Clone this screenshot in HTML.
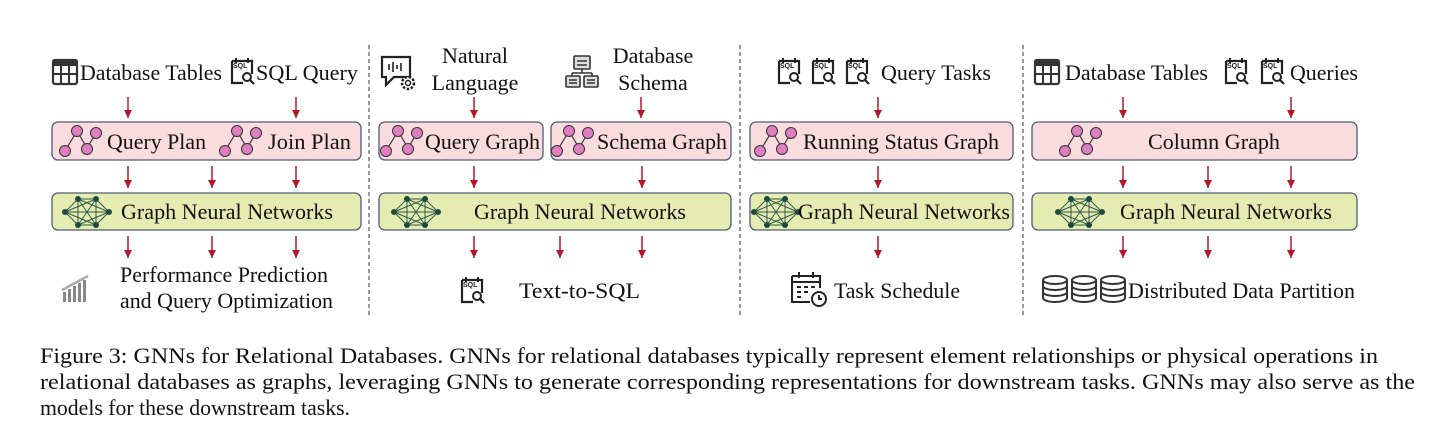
<!DOCTYPE html>
<html><head><meta charset="utf-8">
<style>
html,body{margin:0;padding:0;background:#fff;}
body{width:1456px;height:445px;position:relative;overflow:hidden;font-family:"Liberation Serif",serif;}
svg{position:absolute;left:0;top:0;}
</style></head><body>
<svg width="1456" height="445" viewBox="0 0 1456 445" xmlns="http://www.w3.org/2000/svg" font-family="Liberation Serif, serif" font-size="22" fill="#111">
<defs>
<marker id="ah" markerWidth="9" markerHeight="9" refX="8" refY="4" orient="auto" markerUnits="userSpaceOnUse">
<path d="M0,0 L8,4 L0,8 Z" fill="#b0182a"/></marker>
<g id="graph">
<path d="M5,29 L17,9 L27,26 L36,11" stroke="#333" stroke-width="1.2" fill="none"/>
<circle cx="5" cy="29" r="5.5" fill="#e07fbf" stroke="#333" stroke-width="1"/>
<circle cx="17" cy="9" r="5.5" fill="#e07fbf" stroke="#333" stroke-width="1"/>
<circle cx="27" cy="27" r="5.5" fill="#e07fbf" stroke="#333" stroke-width="1"/>
<circle cx="36" cy="11" r="5.5" fill="#e07fbf" stroke="#333" stroke-width="1"/>
</g>
<g id="gnn" stroke="#2e5a4a" stroke-width="1">
<path d="M2,17 L15,4 L33,4 L46,17 L33,30 L15,30 Z M15,4 L33,30 M33,4 L15,30 M2,17 L33,4 M2,17 L33,30 M46,17 L15,4 M46,17 L15,30 M2,17 L46,17 M15,4 L15,30 M33,4 L33,30" fill="none"/>
<g fill="#1f4a3e" stroke="none"><circle cx="2" cy="17" r="3"/><circle cx="15" cy="4" r="3"/><circle cx="33" cy="4" r="3"/><circle cx="46" cy="17" r="3"/><circle cx="33" cy="30" r="3"/><circle cx="15" cy="30" r="3"/></g>
</g>
<g id="table"><rect x="1" y="1" width="24" height="24" rx="2" fill="none" stroke="#333" stroke-width="2.2"/><rect x="1" y="1" width="24" height="6" fill="#333"/><path d="M1,15 H25 M9,7 V25 M17,7 V25" stroke="#333" stroke-width="2"/></g>
<g id="sqlbox"><path d="M3,3 H23 V16 M3,3 V25 H14" fill="none" stroke="#222" stroke-width="2.2"/><path d="M7,0 V5 M19,0 V5" stroke="#222" stroke-width="2"/><circle cx="18" cy="19" r="4" fill="none" stroke="#222" stroke-width="2"/><path d="M21,22 L25,26" stroke="#222" stroke-width="2.2"/></g>
<g id="db"><ellipse cx="13" cy="5" rx="12" ry="4" fill="#fff" stroke="#333" stroke-width="2"/><path d="M1,5 V23 A12,4 0 0 0 25,23 V5 M1,11 A12,4 0 0 0 25,11 M1,17 A12,4 0 0 0 25,17" fill="none" stroke="#333" stroke-width="2"/></g>
</defs>

<g stroke="#333" stroke-width="1" stroke-dasharray="4,3">
<line x1="369" y1="45" x2="369" y2="318"/><line x1="740" y1="45" x2="740" y2="318"/><line x1="1023" y1="45" x2="1023" y2="318"/>
</g>

<g stroke="#b0182a" stroke-width="1.5" marker-end="url(#ah)">
<line x1="128" y1="97" x2="128" y2="118"/><line x1="296" y1="97" x2="296" y2="118"/>
<line x1="128" y1="166" x2="128" y2="188"/><line x1="212" y1="166" x2="212" y2="188"/><line x1="296" y1="166" x2="296" y2="188"/>
<line x1="128" y1="236" x2="128" y2="258"/><line x1="212" y1="236" x2="212" y2="258"/><line x1="296" y1="236" x2="296" y2="258"/>
<line x1="474" y1="97" x2="474" y2="118"/><line x1="641" y1="97" x2="641" y2="118"/>
<line x1="474" y1="166" x2="474" y2="188"/><line x1="642" y1="166" x2="642" y2="188"/>
<line x1="474" y1="236" x2="474" y2="258"/><line x1="560" y1="236" x2="560" y2="258"/><line x1="642" y1="236" x2="642" y2="258"/>
<line x1="878" y1="97" x2="878" y2="118"/><line x1="878" y1="166" x2="878" y2="188"/><line x1="878" y1="236" x2="878" y2="258"/>
<line x1="1123" y1="97" x2="1123" y2="118"/><line x1="1291" y1="97" x2="1291" y2="118"/>
<line x1="1123" y1="166" x2="1123" y2="188"/><line x1="1208" y1="166" x2="1208" y2="188"/><line x1="1291" y1="166" x2="1291" y2="188"/>
<line x1="1123" y1="236" x2="1123" y2="258"/><line x1="1208" y1="236" x2="1208" y2="258"/><line x1="1291" y1="236" x2="1291" y2="258"/>
</g>

<g stroke="#4d5b78" stroke-width="1.3">
<rect x="52" y="122" width="309" height="38" rx="6" fill="#fadcdf"/>
<rect x="52" y="193" width="309" height="37" rx="6" fill="#e5ecb2"/>
<rect x="379" y="122" width="164" height="38" rx="6" fill="#fadcdf"/>
<rect x="551" y="122" width="180" height="38" rx="6" fill="#fadcdf"/>
<rect x="379" y="193" width="352" height="37" rx="6" fill="#e5ecb2"/>
<rect x="750" y="122" width="263" height="38" rx="6" fill="#fadcdf"/>
<rect x="750" y="193" width="263" height="37" rx="6" fill="#e5ecb2"/>
<rect x="1032" y="122" width="325" height="38" rx="6" fill="#fadcdf"/>
<rect x="1032" y="193" width="325" height="37" rx="6" fill="#e5ecb2"/>
</g>

<use href="#table" x="52" y="59"/><use href="#sqlbox" x="229" y="58"/>
<use href="#graph" x="60" y="122"/><use href="#graph" x="220" y="122"/>
<use href="#gnn" x="63" y="195"/>
<g fill="#888"><rect x="63" y="292" width="3" height="10"/><rect x="68" y="289" width="3" height="13"/><rect x="73" y="286" width="3" height="16"/><rect x="78" y="283" width="3" height="19"/><rect x="83" y="280" width="3" height="22"/></g>
<path d="M62,290 L88,276" stroke="#aaa" stroke-width="2.5"/>

<g transform="translate(380,55)"><path d="M2,2 H30 V22 H14 L6,30 V22 H2 Z" fill="none" stroke="#222" stroke-width="2.2"/><path d="M9,9 V15 M13,7 V17 M17,10 V14 M21,8 V16" stroke="#222" stroke-width="1.6"/><circle cx="28" cy="28" r="6" fill="#fff" stroke="#222" stroke-width="2.5" stroke-dasharray="2.5,1.6"/><circle cx="28" cy="28" r="2.5" fill="none" stroke="#222" stroke-width="1.5"/></g>
<g transform="translate(566,55)" stroke="#333" stroke-width="1.6" fill="#ddd"><rect x="8" y="1" width="16" height="13" rx="1"/><path d="M16,14 V18 M6,18 H26 M6,18 V21 M26,18 V21" fill="none"/><rect x="0" y="21" width="14" height="11" rx="1"/><rect x="18" y="21" width="14" height="11" rx="1"/><path d="M11,6 H21 M11,10 H21 M3,25 H11 M3,28 H11 M21,25 H29 M21,28 H29" fill="none"/></g>
<use href="#graph" x="381" y="122"/><use href="#graph" x="552" y="122"/>
<use href="#gnn" x="392" y="195"/>
<use href="#sqlbox" x="459" y="277"/>

<use href="#sqlbox" x="776" y="58"/><use href="#sqlbox" x="810" y="58"/><use href="#sqlbox" x="844" y="58"/>
<use href="#graph" x="755" y="122"/>
<use href="#gnn" x="752" y="195"/>
<g transform="translate(790,272)" stroke="#222" stroke-width="2" fill="none"><path d="M2,4 H30 V16 M2,4 V30 H20"/><path d="M2,10 H30" /><path d="M9,0 V6 M23,0 V6"/><path d="M7,15 H11 M14,15 H18 M21,15 H25 M7,20 H11 M14,20 H18 M7,25 H11"/><circle cx="29" cy="27" r="7" fill="#fff"/><path d="M29,23 V27 H32"/></g>

<use href="#table" x="1034" y="59"/><use href="#sqlbox" x="1223" y="58"/><use href="#sqlbox" x="1259" y="58"/>
<use href="#graph" x="1060" y="122"/>
<use href="#gnn" x="1056" y="195"/>
<use href="#db" x="1042" y="275"/><use href="#db" x="1071" y="275"/><use href="#db" x="1100" y="275"/>

<g font-family="Liberation Sans, sans-serif" font-size="7" font-weight="bold" fill="#222">
<text x="233" y="68">SQL</text><text x="463" y="287">SQL</text>
<text x="780" y="68">SQL</text><text x="814" y="68">SQL</text><text x="848" y="68">SQL</text>
<text x="1227" y="68">SQL</text><text x="1263" y="68">SQL</text>
</g>

<text x="80" y="80" textLength="142" lengthAdjust="spacingAndGlyphs">Database Tables</text>
<text x="256" y="80" textLength="102" lengthAdjust="spacingAndGlyphs">SQL Query</text>
<text x="107" y="149" textLength="99" lengthAdjust="spacingAndGlyphs">Query Plan</text>
<text x="268" y="149" textLength="83" lengthAdjust="spacingAndGlyphs">Join Plan</text>
<text x="121" y="219" textLength="212" lengthAdjust="spacingAndGlyphs">Graph Neural Networks</text>
<text x="120" y="282" textLength="208" lengthAdjust="spacingAndGlyphs">Performance Prediction</text>
<text x="120" y="308" textLength="213" lengthAdjust="spacingAndGlyphs">and Query Optimization</text>

<text x="475" y="63" text-anchor="middle">Natural</text>
<text x="475" y="90" text-anchor="middle">Language</text>
<text x="653" y="63" text-anchor="middle">Database</text>
<text x="653" y="90" text-anchor="middle">Schema</text>
<text x="425" y="149" textLength="115" lengthAdjust="spacingAndGlyphs">Query Graph</text>
<text x="597" y="149" textLength="130" lengthAdjust="spacingAndGlyphs">Schema Graph</text>
<text x="474" y="219" textLength="212" lengthAdjust="spacingAndGlyphs">Graph Neural Networks</text>
<text x="519" y="298" textLength="121" lengthAdjust="spacingAndGlyphs">Text-to-SQL</text>

<text x="881" y="80" textLength="110" lengthAdjust="spacingAndGlyphs">Query Tasks</text>
<text x="803" y="149" textLength="196" lengthAdjust="spacingAndGlyphs">Running Status Graph</text>
<text x="798" y="219" textLength="212" lengthAdjust="spacingAndGlyphs">Graph Neural Networks</text>
<text x="834" y="298" textLength="126" lengthAdjust="spacingAndGlyphs">Task Schedule</text>

<text x="1065" y="80" textLength="143" lengthAdjust="spacingAndGlyphs">Database Tables</text>
<text x="1290" y="80" textLength="68" lengthAdjust="spacingAndGlyphs">Queries</text>
<text x="1148" y="149" textLength="132" lengthAdjust="spacingAndGlyphs">Column Graph</text>
<text x="1120" y="219" textLength="212" lengthAdjust="spacingAndGlyphs">Graph Neural Networks</text>
<text x="1128" y="298" textLength="227" lengthAdjust="spacingAndGlyphs">Distributed Data Partition</text>

<g font-size="22.5">
<text x="40" y="363" textLength="1338" lengthAdjust="spacingAndGlyphs">Figure 3: GNNs for Relational Databases. GNNs for relational databases typically represent element relationships or physical operations in</text>
<text x="40" y="389" textLength="1375" lengthAdjust="spacingAndGlyphs">relational databases as graphs, leveraging GNNs to generate corresponding representations for downstream tasks. GNNs may also serve as the</text>
<text x="40" y="415" textLength="310" lengthAdjust="spacingAndGlyphs">models for these downstream tasks.</text>
</g>
</svg>
</body></html>
